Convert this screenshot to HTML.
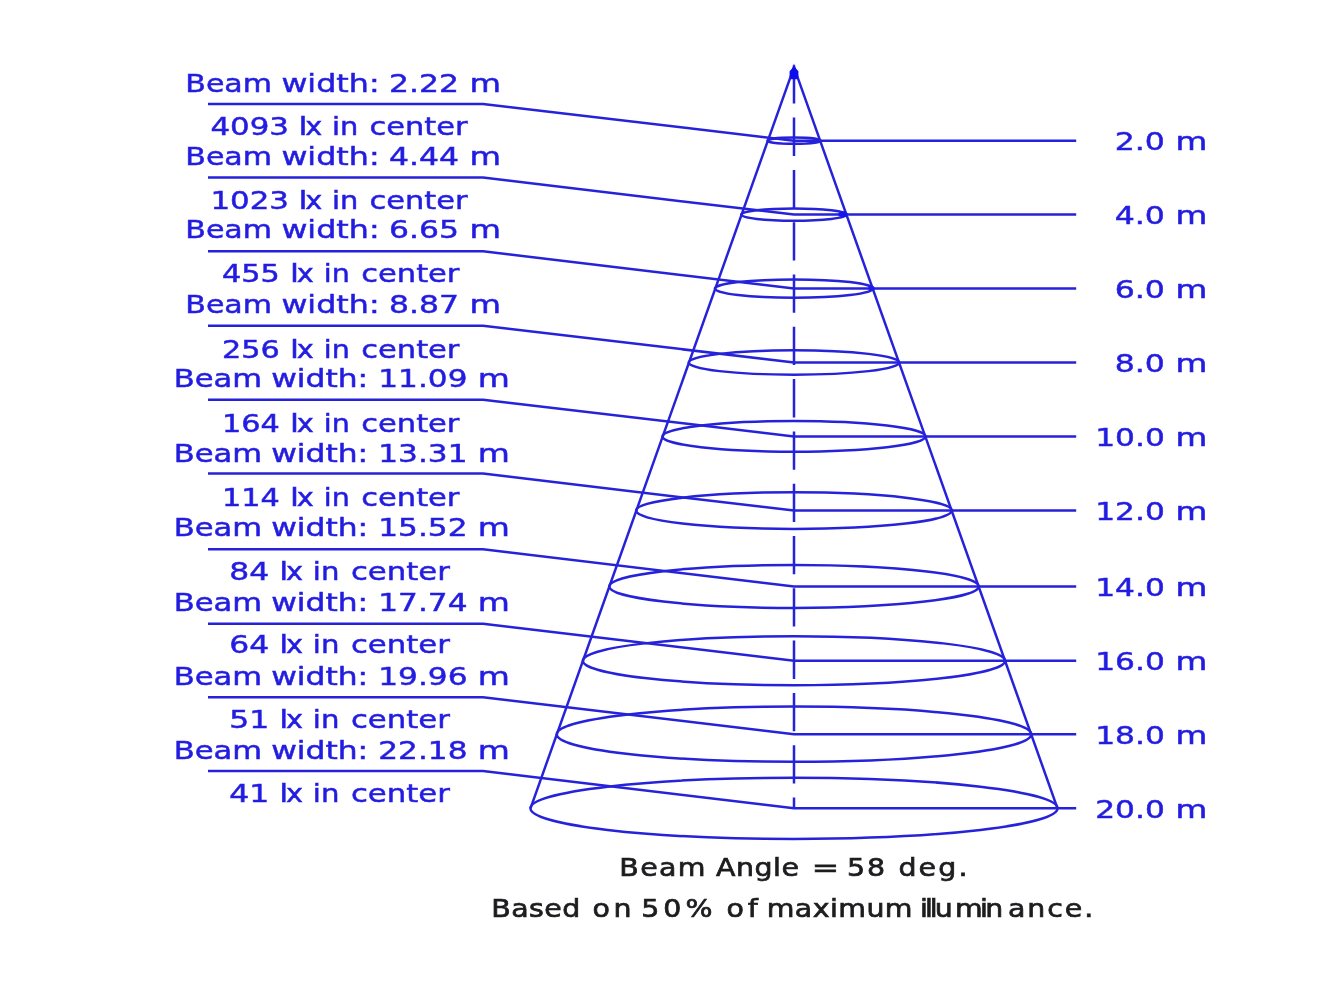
<!DOCTYPE html>
<html lang="en">
<head>
<meta charset="utf-8">
<title>Beam Angle Diagram</title>
<style>
html,body{margin:0;padding:0;background:#fff;}
body{width:1344px;height:1008px;overflow:hidden;}
svg{display:block;}
text{font-family:"DejaVu Sans","Liberation Sans",sans-serif;font-size:25.4px;}
.b{fill:#241ee0;stroke:#241ee0;stroke-width:0.5px;}
.k{fill:#1c1c1e;stroke:#1c1c1e;stroke-width:0.7px;}
.l{stroke:#2622da;stroke-width:2.5;fill:none;}
</style>
</head>
<body>
<svg width="1344" height="1008" viewBox="0 0 1344 1008">
<rect width="1344" height="1008" fill="#fff"/>
<defs><filter id="soft" x="0" y="0" width="1344" height="1008" filterUnits="userSpaceOnUse"><feGaussianBlur stdDeviation="0.55 0.5"/></filter></defs>
<g filter="url(#soft)">

<g class="l">
<path d="M530.5 808.3 L794.0 67.2 L1057.5 808.3"/>
<path d="M794.0 65.3 V808.3" stroke-dasharray="38.3 14"/>
<ellipse cx="794.0" cy="140.7" rx="26.5" ry="3.1"/>
<path d="M208.0 104.0 H483.0 L794.0 140.7 H1076.2"/>
<ellipse cx="794.0" cy="214.6" rx="52.8" ry="6.1"/>
<path d="M208.0 177.6 H483.0 L794.0 214.6 H1076.2"/>
<ellipse cx="794.0" cy="288.6" rx="79.1" ry="9.2"/>
<path d="M208.0 251.3 H483.0 L794.0 288.6 H1076.2"/>
<ellipse cx="794.0" cy="362.5" rx="105.3" ry="12.2"/>
<path d="M208.0 325.7 H483.0 L794.0 362.5 H1076.2"/>
<ellipse cx="794.0" cy="436.4" rx="131.5" ry="15.3"/>
<path d="M208.0 399.8 H483.0 L794.0 436.4 H1076.2"/>
<ellipse cx="794.0" cy="510.6" rx="157.9" ry="18.3"/>
<path d="M208.0 473.6 H483.0 L794.0 510.6 H1076.2"/>
<ellipse cx="794.0" cy="586.4" rx="184.8" ry="21.5"/>
<path d="M208.0 549.3 H483.0 L794.0 586.4 H1076.2"/>
<ellipse cx="794.0" cy="660.7" rx="211.2" ry="24.5"/>
<path d="M208.0 623.7 H483.0 L794.0 660.7 H1076.2"/>
<ellipse cx="794.0" cy="734.2" rx="237.3" ry="27.6"/>
<path d="M208.0 697.3 H483.0 L794.0 734.2 H1076.2"/>
<ellipse cx="794.0" cy="808.3" rx="263.6" ry="30.6"/>
<path d="M208.0 771.0 H483.0 L794.0 808.3 H1076.2"/>
</g>
<path d="M794.0 65.7 l2.2 3 l2.2 2.5 v6 l-1.6 2 h-5.6 l-1.6 -2 v-6 l2.2 -2.5 z" fill="#1010ee"/>
<ellipse cx="842.9" cy="214.3" rx="4.6" ry="2.9" fill="#1414ea"/>
<ellipse cx="871.5" cy="288.3" rx="3.2" ry="2.6" fill="#1a1ae6"/>
<text class="b" y="92.1"><tspan x="185.3" textLength="86.7" lengthAdjust="spacingAndGlyphs">Beam</tspan> <tspan x="281.4" textLength="98.2" lengthAdjust="spacingAndGlyphs">width:</tspan> <tspan x="389.1" textLength="69.9" lengthAdjust="spacingAndGlyphs">2.22</tspan> <tspan x="469.4" textLength="31.5" lengthAdjust="spacingAndGlyphs">m</tspan></text>
<text class="b" y="135.0"><tspan x="210.4" textLength="78.5" lengthAdjust="spacingAndGlyphs">4093</tspan> <tspan x="298.6" textLength="9.0" lengthAdjust="spacingAndGlyphs">l</tspan><tspan x="305.3" textLength="17.0" lengthAdjust="spacingAndGlyphs">x</tspan> <tspan x="332.1" textLength="26.3" lengthAdjust="spacingAndGlyphs">in</tspan> <tspan x="369.6" textLength="97.9" lengthAdjust="spacingAndGlyphs">center</tspan></text>
<text class="b" y="165.0"><tspan x="185.3" textLength="86.7" lengthAdjust="spacingAndGlyphs">Beam</tspan> <tspan x="281.4" textLength="98.2" lengthAdjust="spacingAndGlyphs">width:</tspan> <tspan x="389.1" textLength="69.9" lengthAdjust="spacingAndGlyphs">4.44</tspan> <tspan x="469.4" textLength="31.5" lengthAdjust="spacingAndGlyphs">m</tspan></text>
<text class="b" y="209.3"><tspan x="210.4" textLength="78.5" lengthAdjust="spacingAndGlyphs">1023</tspan> <tspan x="298.6" textLength="9.0" lengthAdjust="spacingAndGlyphs">l</tspan><tspan x="305.3" textLength="17.0" lengthAdjust="spacingAndGlyphs">x</tspan> <tspan x="332.1" textLength="26.3" lengthAdjust="spacingAndGlyphs">in</tspan> <tspan x="369.6" textLength="97.9" lengthAdjust="spacingAndGlyphs">center</tspan></text>
<text class="b" y="238.4"><tspan x="185.3" textLength="86.7" lengthAdjust="spacingAndGlyphs">Beam</tspan> <tspan x="281.4" textLength="98.2" lengthAdjust="spacingAndGlyphs">width:</tspan> <tspan x="389.1" textLength="69.9" lengthAdjust="spacingAndGlyphs">6.65</tspan> <tspan x="469.4" textLength="31.5" lengthAdjust="spacingAndGlyphs">m</tspan></text>
<text class="b" y="282.1"><tspan x="221.9" textLength="57.8" lengthAdjust="spacingAndGlyphs">455</tspan> <tspan x="290.1" textLength="9.0" lengthAdjust="spacingAndGlyphs">l</tspan><tspan x="296.8" textLength="17.0" lengthAdjust="spacingAndGlyphs">x</tspan> <tspan x="323.8" textLength="26.0" lengthAdjust="spacingAndGlyphs">in</tspan> <tspan x="361.3" textLength="98.1" lengthAdjust="spacingAndGlyphs">center</tspan></text>
<text class="b" y="312.7"><tspan x="185.3" textLength="86.7" lengthAdjust="spacingAndGlyphs">Beam</tspan> <tspan x="281.4" textLength="98.2" lengthAdjust="spacingAndGlyphs">width:</tspan> <tspan x="389.1" textLength="69.9" lengthAdjust="spacingAndGlyphs">8.87</tspan> <tspan x="469.4" textLength="31.5" lengthAdjust="spacingAndGlyphs">m</tspan></text>
<text class="b" y="358.0"><tspan x="221.9" textLength="57.8" lengthAdjust="spacingAndGlyphs">256</tspan> <tspan x="290.1" textLength="9.0" lengthAdjust="spacingAndGlyphs">l</tspan><tspan x="296.8" textLength="17.0" lengthAdjust="spacingAndGlyphs">x</tspan> <tspan x="323.8" textLength="26.0" lengthAdjust="spacingAndGlyphs">in</tspan> <tspan x="361.3" textLength="98.1" lengthAdjust="spacingAndGlyphs">center</tspan></text>
<text class="b" y="386.8"><tspan x="173.7" textLength="88.4" lengthAdjust="spacingAndGlyphs">Beam</tspan> <tspan x="271.2" textLength="97.0" lengthAdjust="spacingAndGlyphs">width:</tspan> <tspan x="378.3" textLength="89.2" lengthAdjust="spacingAndGlyphs">11.09</tspan> <tspan x="477.7" textLength="32.1" lengthAdjust="spacingAndGlyphs">m</tspan></text>
<text class="b" y="432.4"><tspan x="221.9" textLength="57.8" lengthAdjust="spacingAndGlyphs">164</tspan> <tspan x="290.1" textLength="9.0" lengthAdjust="spacingAndGlyphs">l</tspan><tspan x="296.8" textLength="17.0" lengthAdjust="spacingAndGlyphs">x</tspan> <tspan x="323.8" textLength="26.0" lengthAdjust="spacingAndGlyphs">in</tspan> <tspan x="361.3" textLength="98.1" lengthAdjust="spacingAndGlyphs">center</tspan></text>
<text class="b" y="462.1"><tspan x="173.7" textLength="88.4" lengthAdjust="spacingAndGlyphs">Beam</tspan> <tspan x="271.2" textLength="97.0" lengthAdjust="spacingAndGlyphs">width:</tspan> <tspan x="378.3" textLength="89.2" lengthAdjust="spacingAndGlyphs">13.31</tspan> <tspan x="477.7" textLength="32.1" lengthAdjust="spacingAndGlyphs">m</tspan></text>
<text class="b" y="506.2"><tspan x="221.9" textLength="57.8" lengthAdjust="spacingAndGlyphs">114</tspan> <tspan x="290.1" textLength="9.0" lengthAdjust="spacingAndGlyphs">l</tspan><tspan x="296.8" textLength="17.0" lengthAdjust="spacingAndGlyphs">x</tspan> <tspan x="323.8" textLength="26.0" lengthAdjust="spacingAndGlyphs">in</tspan> <tspan x="361.3" textLength="98.1" lengthAdjust="spacingAndGlyphs">center</tspan></text>
<text class="b" y="535.9"><tspan x="173.7" textLength="88.4" lengthAdjust="spacingAndGlyphs">Beam</tspan> <tspan x="271.2" textLength="97.0" lengthAdjust="spacingAndGlyphs">width:</tspan> <tspan x="378.3" textLength="89.2" lengthAdjust="spacingAndGlyphs">15.52</tspan> <tspan x="477.7" textLength="32.1" lengthAdjust="spacingAndGlyphs">m</tspan></text>
<text class="b" y="579.5"><tspan x="229.3" textLength="39.9" lengthAdjust="spacingAndGlyphs">84</tspan> <tspan x="279.2" textLength="9.0" lengthAdjust="spacingAndGlyphs">l</tspan><tspan x="285.9" textLength="17.0" lengthAdjust="spacingAndGlyphs">x</tspan> <tspan x="312.8" textLength="26.6" lengthAdjust="spacingAndGlyphs">in</tspan> <tspan x="350.9" textLength="98.9" lengthAdjust="spacingAndGlyphs">center</tspan></text>
<text class="b" y="610.8"><tspan x="173.7" textLength="88.4" lengthAdjust="spacingAndGlyphs">Beam</tspan> <tspan x="271.2" textLength="97.0" lengthAdjust="spacingAndGlyphs">width:</tspan> <tspan x="378.3" textLength="89.2" lengthAdjust="spacingAndGlyphs">17.74</tspan> <tspan x="477.7" textLength="32.1" lengthAdjust="spacingAndGlyphs">m</tspan></text>
<text class="b" y="653.3"><tspan x="229.3" textLength="39.9" lengthAdjust="spacingAndGlyphs">64</tspan> <tspan x="279.2" textLength="9.0" lengthAdjust="spacingAndGlyphs">l</tspan><tspan x="285.9" textLength="17.0" lengthAdjust="spacingAndGlyphs">x</tspan> <tspan x="312.8" textLength="26.6" lengthAdjust="spacingAndGlyphs">in</tspan> <tspan x="350.9" textLength="98.9" lengthAdjust="spacingAndGlyphs">center</tspan></text>
<text class="b" y="684.6"><tspan x="173.7" textLength="88.4" lengthAdjust="spacingAndGlyphs">Beam</tspan> <tspan x="271.2" textLength="97.0" lengthAdjust="spacingAndGlyphs">width:</tspan> <tspan x="378.3" textLength="89.2" lengthAdjust="spacingAndGlyphs">19.96</tspan> <tspan x="477.7" textLength="32.1" lengthAdjust="spacingAndGlyphs">m</tspan></text>
<text class="b" y="727.7"><tspan x="229.3" textLength="39.9" lengthAdjust="spacingAndGlyphs">51</tspan> <tspan x="279.2" textLength="9.0" lengthAdjust="spacingAndGlyphs">l</tspan><tspan x="285.9" textLength="17.0" lengthAdjust="spacingAndGlyphs">x</tspan> <tspan x="312.8" textLength="26.6" lengthAdjust="spacingAndGlyphs">in</tspan> <tspan x="350.9" textLength="98.9" lengthAdjust="spacingAndGlyphs">center</tspan></text>
<text class="b" y="758.7"><tspan x="173.7" textLength="88.4" lengthAdjust="spacingAndGlyphs">Beam</tspan> <tspan x="271.2" textLength="97.0" lengthAdjust="spacingAndGlyphs">width:</tspan> <tspan x="378.3" textLength="89.2" lengthAdjust="spacingAndGlyphs">22.18</tspan> <tspan x="477.7" textLength="32.1" lengthAdjust="spacingAndGlyphs">m</tspan></text>
<text class="b" y="801.8"><tspan x="229.3" textLength="39.9" lengthAdjust="spacingAndGlyphs">41</tspan> <tspan x="279.2" textLength="9.0" lengthAdjust="spacingAndGlyphs">l</tspan><tspan x="285.9" textLength="17.0" lengthAdjust="spacingAndGlyphs">x</tspan> <tspan x="312.8" textLength="26.6" lengthAdjust="spacingAndGlyphs">in</tspan> <tspan x="350.9" textLength="98.9" lengthAdjust="spacingAndGlyphs">center</tspan></text>
<text class="b" y="150.2"><tspan x="1114.7" textLength="50.2" lengthAdjust="spacingAndGlyphs">2.0</tspan> <tspan x="1175.5" textLength="31.8" lengthAdjust="spacingAndGlyphs">m</tspan></text>
<text class="b" y="224.1"><tspan x="1114.7" textLength="50.2" lengthAdjust="spacingAndGlyphs">4.0</tspan> <tspan x="1175.5" textLength="31.8" lengthAdjust="spacingAndGlyphs">m</tspan></text>
<text class="b" y="298.1"><tspan x="1114.7" textLength="50.2" lengthAdjust="spacingAndGlyphs">6.0</tspan> <tspan x="1175.5" textLength="31.8" lengthAdjust="spacingAndGlyphs">m</tspan></text>
<text class="b" y="372.0"><tspan x="1114.7" textLength="50.2" lengthAdjust="spacingAndGlyphs">8.0</tspan> <tspan x="1175.5" textLength="31.8" lengthAdjust="spacingAndGlyphs">m</tspan></text>
<text class="b" y="445.9"><tspan x="1095.2" textLength="69.7" lengthAdjust="spacingAndGlyphs">10.0</tspan> <tspan x="1175.5" textLength="31.8" lengthAdjust="spacingAndGlyphs">m</tspan></text>
<text class="b" y="520.1"><tspan x="1095.2" textLength="69.7" lengthAdjust="spacingAndGlyphs">12.0</tspan> <tspan x="1175.5" textLength="31.8" lengthAdjust="spacingAndGlyphs">m</tspan></text>
<text class="b" y="595.9"><tspan x="1095.2" textLength="69.7" lengthAdjust="spacingAndGlyphs">14.0</tspan> <tspan x="1175.5" textLength="31.8" lengthAdjust="spacingAndGlyphs">m</tspan></text>
<text class="b" y="670.2"><tspan x="1095.2" textLength="69.7" lengthAdjust="spacingAndGlyphs">16.0</tspan> <tspan x="1175.5" textLength="31.8" lengthAdjust="spacingAndGlyphs">m</tspan></text>
<text class="b" y="743.7"><tspan x="1095.2" textLength="69.7" lengthAdjust="spacingAndGlyphs">18.0</tspan> <tspan x="1175.5" textLength="31.8" lengthAdjust="spacingAndGlyphs">m</tspan></text>
<text class="b" y="817.8"><tspan x="1095.2" textLength="69.7" lengthAdjust="spacingAndGlyphs">20.0</tspan> <tspan x="1175.5" textLength="31.8" lengthAdjust="spacingAndGlyphs">m</tspan></text>
<text class="k" transform="scale(1.12,1)" y="876.1"><tspan x="553.0" textLength="76.8" lengthAdjust="spacing">Beam</tspan> <tspan x="639.3" textLength="74.1" lengthAdjust="spacing">Angle</tspan> <tspan x="724.8" textLength="24.4" lengthAdjust="spacingAndGlyphs">=</tspan> <tspan x="756.2" textLength="34.1" lengthAdjust="spacing">58</tspan> <tspan x="802.2" textLength="61.6" lengthAdjust="spacing">deg.</tspan></text>
<text class="k" transform="scale(1.12,1)" y="917.5"><tspan x="438.7" textLength="79.4" lengthAdjust="spacing">Based</tspan> <tspan x="529.1" textLength="34.8" lengthAdjust="spacing">on</tspan> <tspan x="572.5" textLength="63.7" lengthAdjust="spacing">50%</tspan> <tspan x="648.6" textLength="28.0" lengthAdjust="spacing">of</tspan> <tspan x="684.5" textLength="130.3" lengthAdjust="spacing">maximum</tspan> <tspan x="821.4" textLength="29.3" lengthAdjust="spacing">illu</tspan><tspan x="852.7" textLength="43.0" lengthAdjust="spacing">min</tspan><tspan x="900.0" textLength="76.1" lengthAdjust="spacing">ance.</tspan></text>
</g>
</svg>
</body>
</html>
